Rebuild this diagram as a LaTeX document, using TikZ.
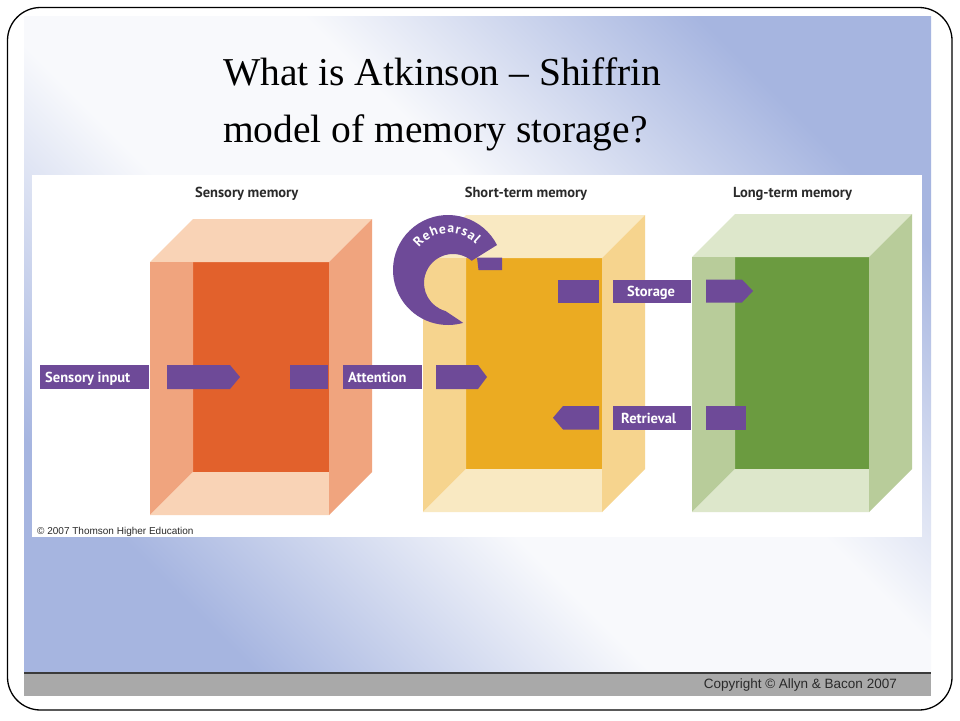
\documentclass[tikz,border=0pt]{standalone}
\usepackage{fontspec}
\setmainfont{Liberation Serif}
\newfontfamily\labelfont{PT Sans}
\newfontfamily\arialfont{Liberation Sans}
\usetikzlibrary{decorations.text}
\definecolor{bgblue}{HTML}{A6B5E0}
\definecolor{bgwhite}{HTML}{F8F9FC}
\definecolor{purp}{HTML}{6E4A98}
\definecolor{sL}{HTML}{F9D3B6}
\definecolor{sM}{HTML}{F0A47E}
\definecolor{sD}{HTML}{E2612C}
\definecolor{tL}{HTML}{F9E9C2}
\definecolor{tM}{HTML}{F6D48E}
\definecolor{tD}{HTML}{EBAB22}
\definecolor{lL}{HTML}{DDE7CB}
\definecolor{lM}{HTML}{B8CC9A}
\definecolor{lD}{HTML}{6B9B40}
\definecolor{barGray}{HTML}{A9A9A9}
\definecolor{barLine}{HTML}{3A3A3A}
\definecolor{headtext}{HTML}{2A2A2A}

\pgfdeclareverticalshading{slideshade}{100bp}{%
  color(0bp)=(bgblue); color(25bp)=(bgblue); color(43bp)=(bgwhite);
  color(57bp)=(bgwhite); color(75bp)=(bgblue); color(100bp)=(bgblue)}

% #1 left, #2 top, #3 right, #4 bottom, #5 depth, #6 light, #7 mid, #8 dark
\newcommand\memcube[8]{%
  \fill[#8] ({#1+#5},#2) rectangle (#3,{#4-#5});
  \fill[#6] (#1,#2) -- (#3,#2) -- ({#3+#5},{#2-#5}) -- ({#1+#5},{#2-#5}) -- cycle;
  \fill[#7] (#1,#2) -- ({#1+#5},#2) -- ({#1+#5},{#4-#5}) -- (#1,#4) -- cycle;
  \fill[#6] (#1,#4) -- ({#1+#5},{#4-#5}) -- (#3,{#4-#5}) -- (#3,#4) -- cycle;
  \fill[#7] (#3,#2) -- ({#3+#5},{#2-#5}) -- ({#3+#5},{#4-#5}) -- (#3,#4) -- cycle;
}

\begin{document}
\begin{tikzpicture}[x=1pt,y=-1pt,
  barlabel/.style={anchor=base west, text=white, inner sep=0pt,
    font=\labelfont\bfseries\fontsize{14.5}{15}\selectfont},
  heading/.style={anchor=base, text=headtext, inner sep=0pt,
    font=\labelfont\bfseries\fontsize{14.5}{15}\selectfont},
  titletext/.style={anchor=base west, inner sep=0pt, text=black,
    font=\fontsize{39.5}{40}\selectfont},
]
\useasboundingbox (0,0) rectangle (960,720);
\fill[white] (0,0) rectangle (960,720);
% slide background
\shade[shading=slideshade, shading angle=135] (24,16) rectangle (931,672);
\fill[barGray] (24,672) rectangle (931,696);
\draw[barLine, line width=2pt] (24,673) -- (931,673);
\draw[black, line width=1.3pt, rounded corners=33pt] (7.5,7.5) rectangle (952,710);

% title
\node[titletext] (title1) at (223,85) {What is Atkinson -- Shiffrin};
\node[titletext] (title2) at (223,142) {model of memory storage?};

% white panel
\fill[white] (32,175) rectangle (922,537);

% cubes
\memcube{150}{262}{329}{515}{43}{sL}{sM}{sD}
\memcube{423}{258}{602}{512}{43}{tL}{tM}{tD}
\memcube{692}{257}{869}{512}{43}{lL}{lM}{lD}

% headings
\node[heading] (hS) at (246.7,197) {Sensory memory};
\node[heading] (hT) at (526,197) {Short-term memory};
\node[heading] (hL) at (792.5,197) {Long-term memory};

% sensory row
\fill[purp] (40,365) rectangle (149,389);
\node[barlabel] (lin) at (45,382) {Sensory input};
\fill[purp] (167,365) -- (230,365) -- (240,377) -- (230,389) -- (167,389) -- cycle;
\fill[purp] (290,365) rectangle (328,389);
\fill[purp] (343,365) rectangle (422,389);
\node[barlabel] (latt) at (348,382) {Attention};
\fill[purp] (436,365) -- (478,365) -- (487,377) -- (478,389) -- (436,389) -- cycle;

% storage row
\fill[purp] (558,279.5) rectangle (599,302.5);
\fill[purp] (613,279.5) rectangle (691,302.5);
\node[barlabel] (lsto) at (627,296) {Storage};
\fill[purp] (706,279.5) -- (742,279.5) -- (753,291) -- (742,302.5) -- (706,302.5) -- cycle;

% retrieval row
\fill[purp] (553,417.75) -- (563,406) -- (599,406) -- (599,429.5) -- (563,429.5) -- cycle;
\fill[purp] (613,406) rectangle (691,429.5);
\node[barlabel] (lret) at (621,423) {Retrieval};
\fill[purp] (706,406) rectangle (746,429.5);

% rehearsal loop
\fill[purp] (477,257.5) -- (502,257.5) -- (502,270) -- (478.5,270) -- cycle;
\fill[purp] (497,245.03) arc[start angle=-27, end angle=-286, radius=55]
  -- (445.5,311) arc[start angle=-255, end angle=-50, radius=29] -- cycle;
\coordinate (rs) at (419.06,247.6);
\path[decorate, decoration={text along path, text align=fit to path,
   text={|\labelfont\bfseries\fontsize{13.5}{13}\selectfont\color{white}|Rehearsal}}]
   (rs) arc[start angle=-142, end angle=-45, radius=38];

% credits
\node[anchor=base west, inner sep=0pt, text=headtext, font=\arialfont\fontsize{10}{10}\selectfont]
  (cr1) at (37,534) {\textcopyright{} 2007 Thomson Higher Education};
\node[anchor=base east, inner sep=0pt, text=headtext, font=\arialfont\fontsize{13.5}{13}\selectfont]
  (cr2) at (897,688.5) {Copyright \textcopyright{} Allyn \& Bacon 2007};
\end{tikzpicture}
\end{document}
